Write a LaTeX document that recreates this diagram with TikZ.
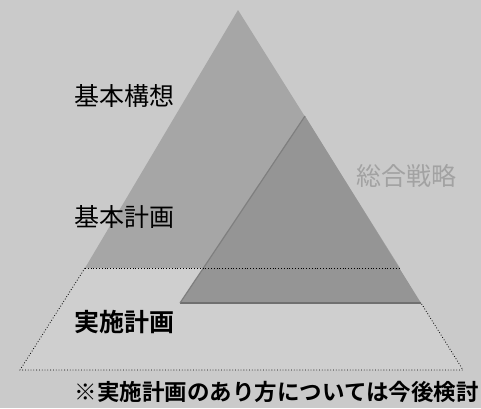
\documentclass[tikz,border=0pt]{standalone}
\usepackage{fontspec}
\newfontfamily\jp{Noto Sans CJK JP}
\newfontfamily\jpb{Noto Sans CJK JP Bold}
\definecolor{bg}{HTML}{CACACA}
\definecolor{topfill}{HTML}{A6A6A6}
\definecolor{strat}{HTML}{959595}
\definecolor{lowfill}{HTML}{CFCFCF}
\definecolor{stratlbl}{HTML}{A2A2A2}
\tikzset{
  lbl/.style={font=\jp\fontsize{25}{25}\selectfont, text=black, inner sep=0pt},
  lblb/.style={font=\jpb\fontsize{25}{25}\selectfont, text=black, inner sep=0pt},
  note/.style={font=\jpb\fontsize{22.5}{24}\selectfont, text=black, inner sep=0pt, anchor=east},
  dots/.style={draw=black, dotted, line width=0.8pt}
}
\begin{document}
\begin{tikzpicture}[x=1pt,y=-1pt]
\useasboundingbox (0,0) rectangle (481,408);
\fill[bg] (0,0) rectangle (481,408);
% key points
\coordinate (apex) at (238,10);
\coordinate (ml) at (85,268);
\coordinate (mr) at (400,268);
\coordinate (sr) at (421,303);
\coordinate (sl) at (180,303);
\coordinate (sa) at (305,116);
\coordinate (bl) at (20,370);
\coordinate (br) at (463,370);
% lower trapezoid
\fill[lowfill] (ml) -- (bl) -- (br) -- (sr) -- (mr) -- cycle;
% upper triangle
\fill[topfill] (apex) -- (ml) -- (mr) -- cycle;
% strategy triangle
\fill[strat] (sa) -- (sl) -- (sr) -- cycle;
\draw[strat!75!black, line width=2pt] (sl) -- (sr);
\draw[strat!85!black, line width=1.2pt] (sa) -- (sl);
% dotted outline of lower part
\draw[dots] (ml) -- (mr);
\draw[dots] (ml) -- (bl) -- (br) -- (sr);
% labels
\node[lbl] (kk) at (124,96) {基本構想};
\node[lbl] (kp) at (124,217) {基本計画};
\node[lblb] (jp) at (124,322) {実施計画};
\node[lbl, text=stratlbl] (sg) at (406,176) {総合戦略};
\node[note] (nt) at (479,392) {※実施計画のあり方については今後検討};
\end{tikzpicture}
\end{document}
